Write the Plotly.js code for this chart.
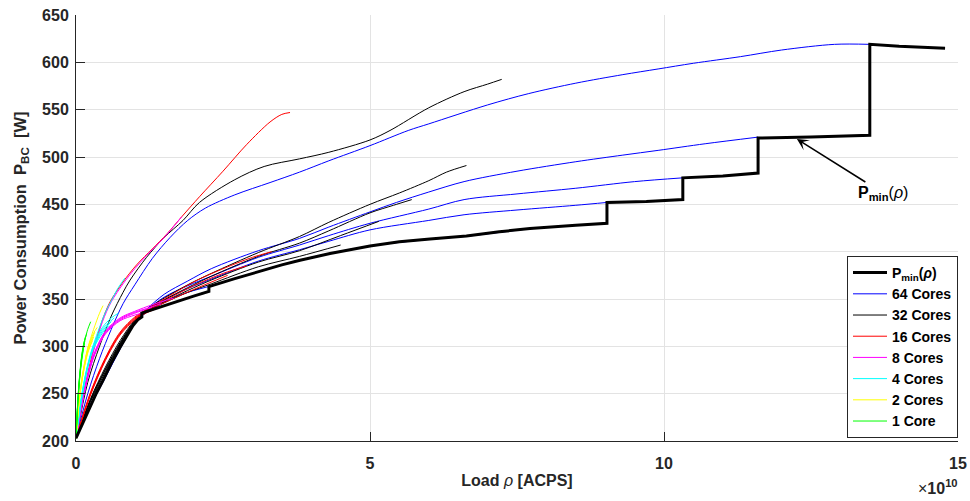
<!DOCTYPE html>
<html>
<head>
<meta charset="utf-8">
<script src="https://cdn.plot.ly/plotly-3.0.1.min.js"></script>
<style>html,body{margin:0;padding:0;background:#fff;}#chart{width:970px;height:501px;}</style>
</head>
<body>
<div id="chart"></div>
<script>
// ---- data (load in units of 1e10 ACPS, power in W) ----
const xTicks = [0, 5, 10, 15];
const xTickText = ["0", "5", "10", "15"];
const yTicks = [200, 250, 300, 350, 400, 450, 500, 550, 600, 650];

const pminX = [0,0.05,0.1,0.18,0.25,0.35,0.46,0.6,0.75,0.87,0.97,1.05,1.12,1.12,1.5,2.0,2.26,2.26,2.7,3.13,3.5,3.81,4.32,5.0,5.5,6.02,6.64,7.2,7.72,8.5,9.03,9.03,9.7,10.32,10.32,11.0,11.6,11.6,12.5,13.5,13.5,14.0,14.78];
const pminY = [203,210,217,228,238,251,264,282,299,312,322,328,331,335,343,353,358,363,371.5,379.5,386,391,398,406,410.5,413.5,416.5,421,424.5,428,430,452,453,455,478,480,483,520,521,523,619,617,615];

// 64 cores
const blue1X = [0,0.2,0.4,0.6,0.8,1.0,1.3,1.6,1.9,2.2,2.7,3.3,3.8,4.3,5.0,5.65,6.0,7.0,7.7,8.5,9.3,9.9,10.5,11.3,12.0,12.9,13.5];
const blue1Y = [203,250,287,318,345,365,393,415,433,446,460,473,484,496,512,528,535,555,567,578,587,593,599,606,613,619,619];
const blue2X = [0,0.25,0.5,0.75,1.0,1.2,1.5,1.9,2.3,3.1,3.8,4.3,5.0,5.45,6.0,6.6,7.5,8.5,9.3,9.9,10.7,11.6];
const blue2Y = [203,239,270,300,326,339,355,369,382,401,414,426,442,452,463,474,485,495,502,507,514,521];
const blue3X = [0,0.25,0.5,0.75,1.0,1.2,1.5,1.9,2.3,3.1,3.8,4.3,5.0,6.0,6.6,7.5,8.5,9.5,10.32];
const blue3Y = [203,238,269,299,325,338,352,364,374,394,407,417,430,445,455,461,467,474,478];
const blue4X = [0,0.25,0.5,0.75,1.0,1.2,1.5,1.9,2.3,3.1,3.8,4.3,5.0,6.0,6.6,7.5,8.5,9.03];
const blue4Y = [203,238,268,298,325,337,349,361,371,390,402,411,423,433,439,444,449,452];
const blue5X = [0,0.25,0.5,0.75,1.0,1.2,1.5,1.9,2.3,3.1,3.8,4.3,5.0,6.0,6.6,7.7,8.5,9.03];
const blue5Y = [203,237,267,297,324,336,347,357,364,379,391,398,406,413,416,424,428,430];

// 32 cores
const black1X = [0,0.2,0.4,0.6,0.8,0.92,1.2,1.5,1.82,2.1,2.7,3.2,3.8,4.3,5.0,5.34,6.0,6.6,7.0,7.24];
const black1Y = [203,262,300,332,357,370,394,415,433,452,476,490,498,505,518,528,552,569,577,582];
const black2X = [0,0.25,0.5,0.75,1.0,1.2,1.5,1.9,2.3,3.1,3.8,4.3,5.0,5.5,6.0,6.3,6.64];
const black2Y = [203,245,278,306,328,339,351,365,377,399,416,431,450,462,475,484,491];
const black3X = [0,0.25,0.5,0.75,1.0,1.2,1.5,1.9,2.3,3.1,3.8,4.3,5.0,5.4,5.71];
const black3Y = [203,244,276,304,327,338,349,362,374,395,409,422,441,449,455];
const black4X = [0,0.25,0.5,0.75,1.0,1.2,1.5,1.9,2.3,3.1,3.8,4.5,5.15];
const black4Y = [203,243,275,303,326,337,347,359,370,389,401,417,432];
const black5X = [0,0.25,0.5,0.75,1.0,1.2,1.5,1.9,2.3,3.1,3.8,4.5];
const black5Y = [203,242,273,302,325,336,346,357,366,384,395,407];

// 16 cores
const red1X = [0,0.15,0.3,0.45,0.58,0.8,1.03,1.3,1.55,1.8,2.1,2.5,2.9,3.3,3.5,3.64];
const red1Y = [203,257,297,328,347,368,386,403,419,437,458,485,513,537,545,547];
const red2X = [0,0.25,0.5,0.75,1.0,1.2,1.5,2.0,2.5,3.0,3.33];
const red2Y = [203,252,288,315,331,339,350,368,382,394,400];
const red3X = [0,0.25,0.5,0.75,1.0,1.2,1.5,2.0,2.5,2.9];
const red3Y = [203,251,287,314,330,338,348,364,377,385];
const red4X = [0,0.25,0.5,0.75,1.0,1.2,1.5,2.0,2.58];
const red4Y = [203,250,286,313,329,337,346,360,375];
const red5X = [0,0.25,0.5,0.75,1.0,1.12,1.5,2.0,2.26];
const red5Y = [203,249,285,312,328,333,343,353,358];

// 8 cores
const mag1X = [0,0.15,0.3,0.45,0.6,0.8,1.0,1.2,1.5,1.8];
const mag1Y = [203,255,295,326,347,366,382,396,415,437];
const mag2X = [0,0.15,0.3,0.5,0.75,1.0,1.3,1.66];
const mag2Y = [203,256,291,316,330,337,344,351];
const mag3X = [0,0.15,0.3,0.5,0.75,1.0,1.2,1.45];
const mag3Y = [203,255,290,315,329,336,340,345];
const mag4X = [0,0.15,0.3,0.5,0.75,1.0,1.29];
const mag4Y = [203,254,289,314,328,335,341];
const mag5X = [0,0.15,0.3,0.5,0.75,1.0,1.13];
const mag5Y = [203,253,288,313,327,333,335];

// 4 cores
const cyan1X = [0,0.1,0.2,0.3,0.4,0.5,0.6,0.7,0.83];
const cyan1Y = [203,245,278,302,320,336,348,360,372];
const cyan2X = [0,0.1,0.2,0.3,0.45,0.6,0.72];
const cyan2Y = [203,250,281,302,320,330,335];
const cyan3X = [0,0.1,0.2,0.3,0.45,0.65];
const cyan3Y = [203,249,280,300,318,330];
const cyan4X = [0,0.1,0.2,0.3,0.45,0.6];
const cyan4Y = [203,248,279,299,316,326];
const cyan5X = [0,0.1,0.2,0.3,0.45,0.56];
const cyan5Y = [203,247,278,298,314,322];

// 2 cores
const yel1X = [0,0.05,0.1,0.15,0.2,0.3,0.4,0.46];
const yel1Y = [203,240,263,282,298,318,335,343];
const yel2X = [0,0.05,0.1,0.15,0.2,0.3,0.36];
const yel2Y = [203,242,266,284,298,314,320];
const yel3X = [0,0.05,0.1,0.15,0.2,0.32];
const yel3Y = [203,241,265,283,296,315];
const yel4X = [0,0.05,0.1,0.15,0.2,0.3];
const yel4Y = [203,240,264,281,294,310];
const yel5X = [0,0.05,0.1,0.15,0.2,0.28];
const yel5Y = [203,239,263,280,293,306];

// 1 core
const grn1X = [0,0.03,0.06,0.1,0.15,0.2,0.25];
const grn1Y = [203,240,265,290,306,318,326];
const grn2X = [0,0.03,0.06,0.1,0.14,0.18];
const grn2Y = [203,242,268,292,305,313];
const grn3X = [0,0.03,0.06,0.1,0.13,0.16];
const grn3Y = [203,241,267,290,302,310];
const grn4X = [0,0.03,0.06,0.1,0.15];
const grn4Y = [203,240,266,288,306];
const grn5X = [0,0.03,0.06,0.1,0.14];
const grn5Y = [203,239,264,286,303];

const groups = [
  {name: "64 Cores", color: "#0000ff", rank: 2, curves: [[blue1X,blue1Y],[blue2X,blue2Y],[blue3X,blue3Y],[blue4X,blue4Y],[blue5X,blue5Y]]},
  {name: "32 Cores", color: "#000000", rank: 3, curves: [[black1X,black1Y],[black2X,black2Y],[black3X,black3Y],[black4X,black4Y],[black5X,black5Y]]},
  {name: "16 Cores", color: "#ff0000", rank: 4, curves: [[red1X,red1Y],[red2X,red2Y],[red3X,red3Y],[red4X,red4Y],[red5X,red5Y]]},
  {name: "8 Cores", color: "#ff00ff", rank: 5, curves: [[mag1X,mag1Y],[mag2X,mag2Y],[mag3X,mag3Y],[mag4X,mag4Y],[mag5X,mag5Y]]},
  {name: "4 Cores", color: "#00ffff", rank: 6, curves: [[cyan1X,cyan1Y],[cyan2X,cyan2Y],[cyan3X,cyan3Y],[cyan4X,cyan4Y],[cyan5X,cyan5Y]]},
  {name: "2 Cores", color: "#ffff00", rank: 7, curves: [[yel1X,yel1Y],[yel2X,yel2Y],[yel3X,yel3Y],[yel4X,yel4Y],[yel5X,yel5Y]]},
  {name: "1 Core", color: "#00ff00", rank: 8, curves: [[grn1X,grn1Y],[grn2X,grn2Y],[grn3X,grn3Y],[grn4X,grn4Y],[grn5X,grn5Y]]}
];

const traces = [];
groups.forEach(g => {
  g.curves.forEach((c, i) => {
    traces.push({
      x: c[0], y: c[1], type: "scatter", mode: "lines",
      name: g.name, legendgroup: g.name, legendrank: g.rank,
      showlegend: i === 0,
      line: {color: g.color, width: 1, shape: "spline", smoothing: 0.9},
      hoverinfo: "skip"
    });
  });
});
traces.push({
  x: pminX, y: pminY, type: "scatter", mode: "lines",
  name: "<b>P<sub>min</sub></b>(<i>ρ</i>)", legendgroup: "pmin", legendrank: 1,
  line: {color: "#000000", width: 3},
  hoverinfo: "skip"
});

const FONT = "Liberation Sans, Arial, Helvetica, sans-serif";
const TXT = "#262626";

const layout = {
  width: 970, height: 501,
  margin: {l: 76, r: 12, t: 15, b: 60},
  paper_bgcolor: "#ffffff", plot_bgcolor: "#ffffff",
  font: {family: FONT, color: TXT},
  showlegend: true,
  xaxis: {
    range: [0, 15], tickvals: xTicks, ticktext: xTickText,
    ticks: "inside", ticklen: 9, tickwidth: 1, tickcolor: TXT,
    showline: true, linecolor: TXT, linewidth: 1, mirror: false,
    showgrid: true, gridcolor: "#e3e3e3", gridwidth: 1, zeroline: false,
    tickfont: {family: FONT, size: 16, color: TXT, weight: "bold"},
    ticklabelstandoff: 8,
    title: {text: "<b>Load </b><i>ρ</i><b> [ACPS]</b>", font: {family: FONT, size: 16, color: TXT}, standoff: 3}
  },
  yaxis: {
    range: [200, 650], tickvals: yTicks,
    ticks: "inside", ticklen: 9, tickwidth: 1, tickcolor: TXT,
    showline: true, linecolor: TXT, linewidth: 1, mirror: false,
    showgrid: true, gridcolor: "#e3e3e3", gridwidth: 1, zeroline: false,
    tickfont: {family: FONT, size: 16, color: TXT, weight: "bold"},
    ticklabelstandoff: 3,
    title: {text: "<b>Power Consumption  P<sub>BC</sub>  [W]</b>", font: {family: FONT, size: 16.5, color: TXT}, standoff: 11}
  },
  legend: {
    x: 1, xanchor: "right", y: 0.007, yanchor: "bottom",
    bgcolor: "#ffffff", bordercolor: TXT, borderwidth: 1,
    font: {family: FONT, size: 14, color: "#000000", weight: "bold"},
    traceorder: "grouped", tracegroupgap: 0, itemwidth: 34
  },
  annotations: [
    {
      x: 12.26, y: 519, xref: "x", yref: "y",
      text: "<b>P<sub>min</sub></b>(<i>ρ</i>)",
      font: {family: FONT, size: 16, color: "#000000"},
      showarrow: true, arrowhead: 3, arrowsize: 1.3, arrowwidth: 1.5, arrowcolor: "#000000",
      ax: 86, ay: 54
    },
    {
      x: 1.002, y: -0.108, xref: "paper", yref: "paper", xanchor: "right", yanchor: "middle",
      text: "×<b>10<sup>10</sup></b>", showarrow: false,
      font: {family: FONT, size: 16, color: TXT}
    }
  ]
};

Plotly.newPlot("chart", traces, layout, {staticPlot: true, displayModeBar: false});
</script>
</body>
</html>
